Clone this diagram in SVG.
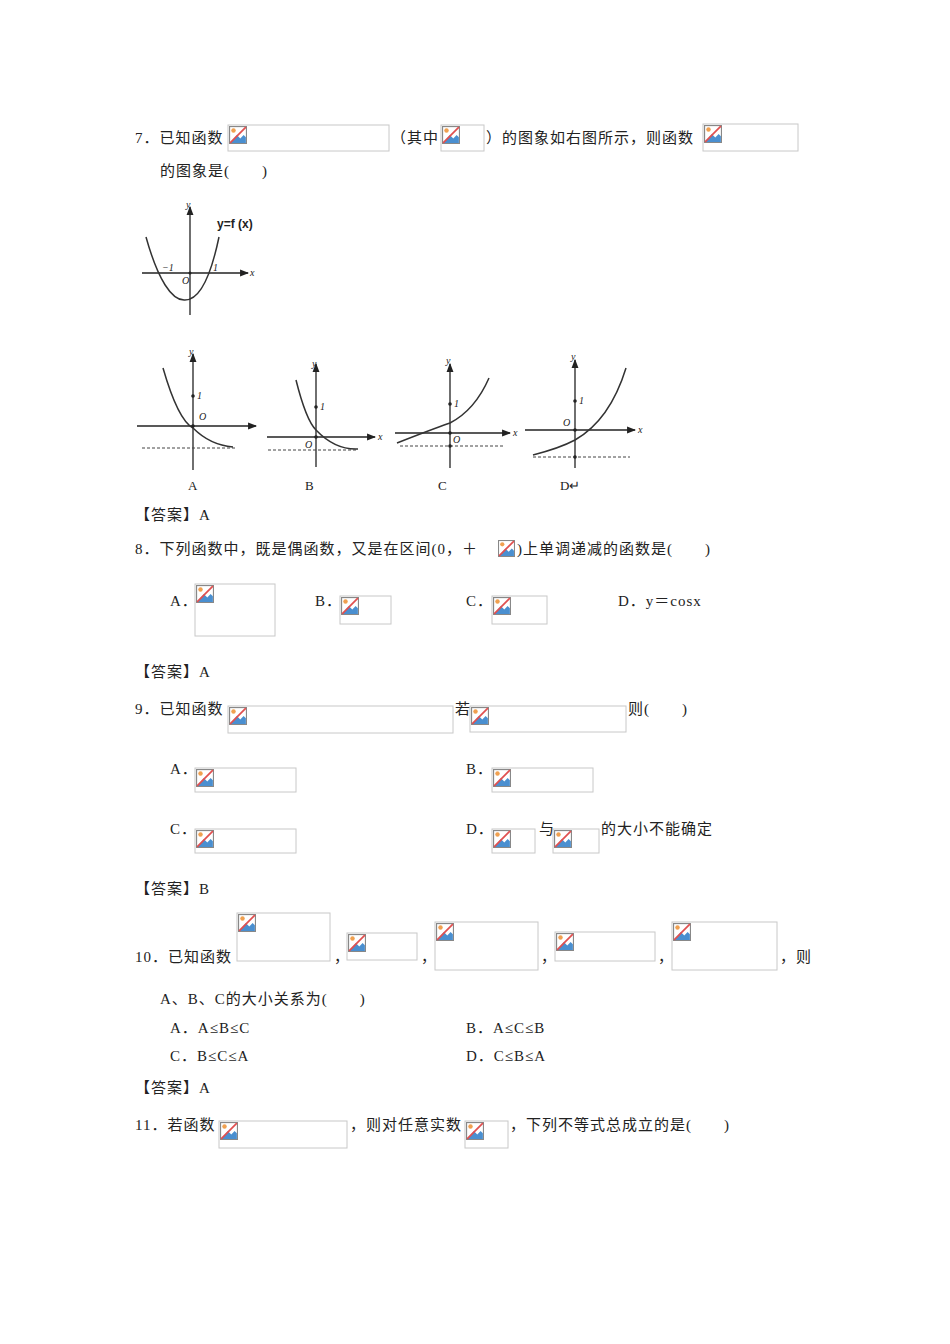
<svg xmlns="http://www.w3.org/2000/svg" xmlns:xlink="http://www.w3.org/1999/xlink" width="950" height="1344" viewBox="0 0 950 1344">
<style>
text{font-family:"Liberation Serif","Noto Sans CJK SC",serif;font-size:15px;fill:#222;letter-spacing:1px}
.ph{fill:#fff;stroke:#c8c8c8;stroke-width:1}
.ax{stroke:#222;stroke-width:1.3;fill:none}
.cv{stroke:#333;stroke-width:1.5;fill:none}
.ds{stroke:#444;stroke-width:1;stroke-dasharray:3 2;fill:none}
.sm{font-size:10px;font-style:italic;letter-spacing:0}
.lb{font-size:13px;letter-spacing:0}
</style>
<defs>
<symbol id="bi" viewBox="0 0 16 16">
<rect x="0.5" y="0.5" width="15" height="15" fill="#fff" stroke="#888"/>
<path d="M1 15 L7 8 L10 11 L13 8 L15 10 L15 15 Z" fill="#4a8fd0"/>
<circle cx="4" cy="4" r="2" fill="#f0a050"/>
<path d="M15 1 L1 15" stroke="#e05050" stroke-width="1.5"/>
</symbol>
<marker id="ar" viewBox="0 0 8 8" refX="7" refY="4" markerWidth="7" markerHeight="7" orient="auto"><path d="M0 1 L8 4 L0 7 Z" fill="#222"/></marker>
</defs>
<rect width="950" height="1344" fill="#fff"/>
<g id="placeholders">
<rect class="ph" x="228" y="125" width="161" height="26"/><use href="#bi" x="229" y="126" width="18" height="18"/>
<rect class="ph" x="441" y="125" width="43" height="26"/><use href="#bi" x="442" y="126" width="18" height="18"/>
<rect class="ph" x="703" y="124" width="95" height="27"/><use href="#bi" x="704" y="125" width="18" height="18"/>
<use href="#bi" x="498" y="540" width="17" height="17"/>
<rect class="ph" x="195" y="584" width="80" height="52"/><use href="#bi" x="196" y="585" width="18" height="18"/>
<rect class="ph" x="340" y="596" width="51" height="28"/><use href="#bi" x="341" y="597" width="18" height="18"/>
<rect class="ph" x="492" y="596" width="55" height="28"/><use href="#bi" x="493" y="597" width="18" height="18"/>
<rect class="ph" x="228" y="706" width="225" height="27"/><use href="#bi" x="229" y="707" width="18" height="18"/>
<rect class="ph" x="470" y="706" width="156" height="26"/><use href="#bi" x="471" y="707" width="18" height="18"/>
<rect class="ph" x="195" y="768" width="101" height="24"/><use href="#bi" x="196" y="769" width="18" height="18"/>
<rect class="ph" x="492" y="768" width="101" height="24"/><use href="#bi" x="493" y="769" width="18" height="18"/>
<rect class="ph" x="195" y="829" width="101" height="24"/><use href="#bi" x="196" y="830" width="18" height="18"/>
<rect class="ph" x="492" y="829" width="43" height="24"/><use href="#bi" x="493" y="830" width="18" height="18"/>
<rect class="ph" x="553" y="829" width="46" height="24"/><use href="#bi" x="554" y="830" width="18" height="18"/>
<rect class="ph" x="237" y="913" width="93" height="48"/><use href="#bi" x="238" y="914" width="18" height="18"/>
<rect class="ph" x="347" y="933" width="70" height="27"/><use href="#bi" x="348" y="934" width="18" height="18"/>
<rect class="ph" x="435" y="922" width="103" height="48"/><use href="#bi" x="436" y="923" width="18" height="18"/>
<rect class="ph" x="555" y="932" width="100" height="29"/><use href="#bi" x="556" y="933" width="18" height="18"/>
<rect class="ph" x="672" y="922" width="105" height="48"/><use href="#bi" x="673" y="923" width="18" height="18"/>
<rect class="ph" x="219" y="1121" width="128" height="27"/><use href="#bi" x="220" y="1122" width="18" height="18"/>
<rect class="ph" x="465" y="1121" width="43" height="27"/><use href="#bi" x="466" y="1122" width="18" height="18"/>
</g>
<g id="text">
<text x="135" y="143">7．已知函数</text>
<text x="391" y="143">（其中</text>
<text x="486" y="143">）的图象如右图所示，则函数</text>
<text x="160" y="176">的图象是(　　)</text>
<text x="135" y="520">【答案】A</text>
<text x="135" y="554">8．下列函数中，既是偶函数，又是在区间(0，＋</text>
<text x="517" y="554">)上单调递减的函数是(　　)</text>
<text x="170" y="606">A．</text><text x="315" y="606">B．</text><text x="466" y="606">C．</text><text x="618" y="606">D．y＝cosx</text>
<text x="135" y="677">【答案】A</text>
<text x="135" y="714">9．已知函数</text><text x="455" y="714">若</text><text x="628" y="714">则(　　)</text>
<text x="170" y="774">A．</text><text x="466" y="774">B．</text>
<text x="170" y="834">C．</text><text x="466" y="834">D．</text><text x="539" y="834">与</text><text x="601" y="834">的大小不能确定</text>
<text x="135" y="894">【答案】B</text>
<text x="135" y="962">10．已知函数</text>
<text x="334" y="962">，</text><text x="421" y="962">，</text><text x="541" y="962">，</text><text x="658" y="962">，</text><text x="780" y="962">，则</text>
<text x="160" y="1004">A、B、C的大小关系为(　　)</text>
<text x="170" y="1033">A．A≤B≤C</text><text x="466" y="1033">B．A≤C≤B</text>
<text x="170" y="1061">C．B≤C≤A</text><text x="466" y="1061">D．C≤B≤A</text>
<text x="135" y="1093">【答案】A</text>
<text x="135" y="1130">11．若函数</text><text x="350" y="1130">，则对任意实数</text><text x="510" y="1130">，下列不等式总成立的是(　　)</text>
</g>
<g id="graph-main">
<line class="ax" x1="190" y1="315" x2="190" y2="207" marker-end="url(#ar)"/>
<line class="ax" x1="142" y1="273" x2="248" y2="273" marker-end="url(#ar)"/>
<path class="cv" d="M146 237 C158 280 172 301 185 300 C198 300 210 280 219 237"/>
<circle cx="190" cy="273" r="1.5" fill="#222"/>
<text class="sm" x="186" y="208">y</text>
<text class="sm" x="250" y="276">x</text>
<text class="sm" x="162" y="271">−1</text>
<text class="sm" x="213" y="271">1</text>
<text class="sm" x="182" y="284">O</text>
<text x="217" y="228" style="font-family:'Liberation Sans',sans-serif;font-size:12px;font-weight:bold;letter-spacing:0">y=f (x)</text>
</g>
<g id="graph-A">
<line class="ax" x1="193" y1="470" x2="193" y2="354" marker-end="url(#ar)"/>
<line class="ax" x1="137" y1="426" x2="256" y2="426" marker-end="url(#ar)"/>
<line class="ds" x1="142" y1="448" x2="236" y2="448"/>
<path class="cv" d="M163 368 Q178 420 193 428 Q210 445 233 447"/>
<circle cx="193" cy="396" r="1.8" fill="#222"/><circle cx="193" cy="426" r="1.8" fill="#222"/>
<text class="sm" x="197" y="399">1</text><text class="sm" x="199" y="420">O</text><text class="sm" x="189" y="355">y</text>
<text class="lb" x="188" y="490">A</text>
</g>
<g id="graph-B">
<line class="ax" x1="316" y1="467" x2="316" y2="364" marker-end="url(#ar)"/>
<line class="ax" x1="267" y1="437" x2="375" y2="437" marker-end="url(#ar)"/>
<line class="ds" x1="268" y1="450" x2="356" y2="450"/>
<path class="cv" d="M296 380 Q306 420 316 430 Q335 450 358 449"/>
<circle cx="316" cy="407" r="1.8" fill="#222"/><circle cx="316" cy="437" r="1.8" fill="#222"/>
<text class="sm" x="320" y="410">1</text><text class="sm" x="305" y="448">O</text><text class="sm" x="312" y="367">y</text><text class="sm" x="378" y="440">x</text>
<text class="lb" x="305" y="490">B</text>
</g>
<g id="graph-C">
<line class="ax" x1="450" y1="468" x2="450" y2="364" marker-end="url(#ar)"/>
<line class="ax" x1="395" y1="433" x2="510" y2="433" marker-end="url(#ar)"/>
<line class="ds" x1="400" y1="446" x2="503" y2="446"/>
<path class="cv" d="M397 443 Q430 430 450 423 Q475 410 489 378"/>
<circle cx="450" cy="404" r="1.8" fill="#222"/><circle cx="450" cy="433" r="1.8" fill="#222"/><circle cx="450" cy="446" r="1.8" fill="#222"/>
<text class="sm" x="454" y="407">1</text><text class="sm" x="453" y="443">O</text><text class="sm" x="446" y="364">y</text><text class="sm" x="513" y="436">x</text>
<text class="lb" x="438" y="490">C</text>
</g>
<g id="graph-D">
<line class="ax" x1="575" y1="468" x2="575" y2="360" marker-end="url(#ar)"/>
<line class="ax" x1="525" y1="430" x2="635" y2="430" marker-end="url(#ar)"/>
<line class="ds" x1="533" y1="457" x2="630" y2="457"/>
<path class="cv" d="M533 455 Q560 448 575 440 Q610 420 626 368"/>
<circle cx="575" cy="401" r="1.8" fill="#222"/><circle cx="575" cy="430" r="1.8" fill="#222"/><circle cx="575" cy="457" r="1.8" fill="#222"/>
<text class="sm" x="579" y="404">1</text><text class="sm" x="563" y="426">O</text><text class="sm" x="571" y="360">y</text><text class="sm" x="638" y="433">x</text>
<text class="lb" x="560" y="490">D↵</text>
</g>
</svg>
